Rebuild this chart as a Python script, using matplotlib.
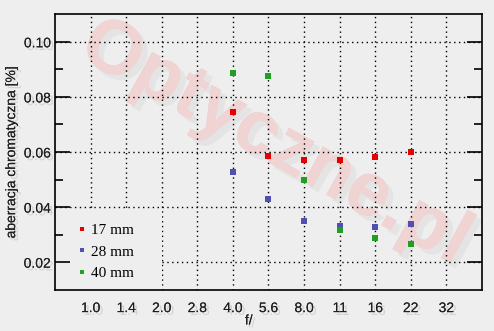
import matplotlib
matplotlib.use('Agg')
from matplotlib import pyplot as plt
from matplotlib import patheffects
from matplotlib.patches import Rectangle

apertures = ['1.0', '1.4', '2.0', '2.8', '4.0', '5.6', '8.0', '11', '16', '22', '32']
f_17 = ['4.0', '5.6', '8.0', '11', '16', '22']
ca_17 = [0.0745, 0.0585, 0.0571, 0.0571, 0.0582, 0.0600]
f_28 = ['4.0', '5.6', '8.0', '11', '16', '22']
ca_28 = [0.0527, 0.0430, 0.0348, 0.0330, 0.0326, 0.0337]
f_40 = ['4.0', '5.6', '8.0', '11', '16', '22']
ca_40 = [0.0887, 0.0876, 0.0498, 0.0315, 0.0286, 0.0265]
yticks = [0.02, 0.04, 0.06, 0.08, 0.10]

bg = '#eeeeee'
shadow = [patheffects.withSimplePatchShadow(offset=(2, -2), shadow_rgbFace='#808080', alpha=0.25),
          patheffects.Normal()]

plt.rcParams['font.family'] = ['Liberation Sans', 'DejaVu Sans']
fig = plt.figure(figsize=(4.94, 3.31), dpi=100, facecolor=bg)
ax = fig.add_axes([0.1113, 0.1239, 0.8644, 0.8338], facecolor=bg)

pos = {a: i for i, a in enumerate(apertures)}

# watermark
ax.text(0.515, 0.53, 'Optyczne.pl', transform=ax.transAxes, fontsize=55, fontweight='bold',
        color='#f0d3d3', rotation=-29, ha='center', va='center', zorder=0.3,
        path_effects=[patheffects.withSimplePatchShadow(offset=(4, -4), shadow_rgbFace='#d0d0d0', alpha=0.3),
                      patheffects.Normal()])

# dotted grid
for y in yticks:
    ax.axhline(y, color='black', lw=1, ls=(0, (1, 2.5)), zorder=0.6)
for i in range(len(apertures)):
    ax.axvline(i, color='black', lw=1, ls=(0, (1, 2.5)), zorder=0.6)

ax.add_patch(Rectangle((0, 0), 0.251, 0.286, transform=ax.transAxes, facecolor=bg,
                       edgecolor='none', zorder=1))

ms = 3.8
ax.plot([pos[a] for a in f_17], ca_17, 's', color='#e60000', ms=ms, mew=0, label='17 mm', zorder=3)
ax.plot([pos[a] for a in f_28], ca_28, 's', color='#5050b0', ms=ms, mew=0, label='28 mm', zorder=3)
ax.plot([pos[a] for a in f_40], ca_40, 's', color='#20a020', ms=ms, mew=0, label='40 mm', zorder=3)

ax.set_xlim(-1, 11)
ax.set_ylim(0.0099, 0.1101)
ax.set_xticks(range(len(apertures)))
ax.set_xticklabels(apertures)
ax.set_yticks(yticks)
ax.set_yticklabels(['%.2f' % v for v in yticks])
ax.set_yticks([0.03, 0.05, 0.07, 0.09], minor=True)
ax.tick_params(axis='x', length=0, pad=8, labelsize=10, labelcolor='#202020')
ax.tick_params(axis='y', which='major', direction='in', length=11, width=1.2, right=True,
               pad=3, labelsize=10, labelcolor='#202020')
ax.tick_params(axis='y', which='minor', direction='in', length=6, width=1.2, right=True)
for s in ax.spines.values():
    s.set_linewidth(1.2)
for t in ax.get_xticklabels() + ax.get_yticklabels():
    t.set_path_effects(shadow)

ax.set_xlabel('f/', fontsize=10, color='#202020', labelpad=2, path_effects=shadow)
ax.xaxis.set_label_coords(0.454, -0.085)
ax.set_ylabel('aberracja chromatyczna [%]', fontsize=10, color='#202020', labelpad=4,
              path_effects=shadow)

leg = ax.legend(loc='lower left', bbox_to_anchor=(0.03, 0.0), frameon=False,
                prop={'family': 'Liberation Serif', 'size': 11}, handlelength=0.5,
                handletextpad=0.4, labelspacing=0.5, markerscale=0.8, borderaxespad=0.25)
leg.set_zorder(2)

fig.savefig('out.png', dpi=100, facecolor=bg)
